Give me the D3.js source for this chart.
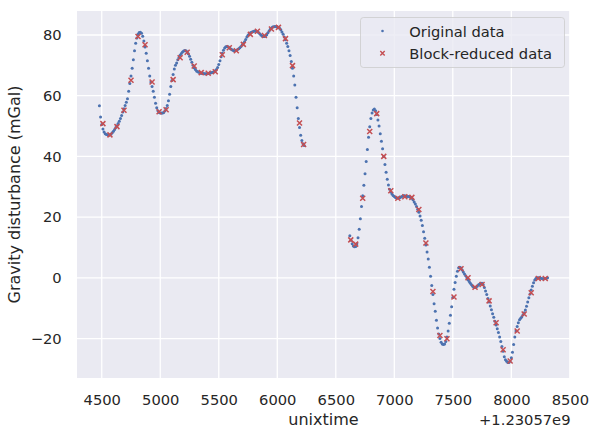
<!DOCTYPE html>
<html>
<head>
<meta charset="utf-8">
<script src="https://cdn.jsdelivr.net/npm/d3@7"></script>
<style>
  body { margin: 0; background: #ffffff; }
  text { font-family: "DejaVu Sans", sans-serif; fill: #262626; }
</style>
</head>
<body>
<script>
'use strict';

// offset printed under the x axis
const timeOffsetLabel = '+1.23057e9';

// tick values
const xTicks = [4500, 5000, 5500, 6000, 6500, 7000, 7500, 8000, 8500];
const yTicks = [-20, 0, 20, 40, 60, 80];

// original data, one reading every 10 s (seconds after the offset)
const sampleStep = 10;
const track1Start = 4480;
const track1Gravity = [
  56.7, 53.0, 50.5, 49.0, 48.0, 47.5, 47.2, 47.1, 47.0, 47.1,
  47.4, 47.8, 48.3, 48.9, 49.5, 50.1, 50.8, 51.6, 52.5, 53.5,
  54.6, 55.7, 56.8, 57.8, 59.0, 61.5, 64.0, 66.5, 69.0, 71.8,
  74.8, 77.3, 79.0, 80.2, 80.8, 80.9, 80.6, 79.6, 78.0, 76.0,
  74.0, 71.5, 69.0, 66.5, 64.5, 63.0, 61.5, 59.5, 57.5, 56.0,
  55.0, 54.5, 54.3, 54.3, 54.3, 54.5, 55.0, 55.8, 56.8, 58.3,
  60.5, 63.0, 65.0, 67.0, 68.8, 70.0, 70.8, 71.8, 72.6, 73.3,
  73.9, 74.4, 74.7, 74.9, 74.8, 74.4, 73.8, 73.0, 72.0, 71.0,
  70.0, 69.2, 68.6, 68.1, 67.9, 67.7, 67.5, 67.4, 67.3, 67.3,
  67.2, 67.2, 67.2, 67.3, 67.4, 67.5, 67.6, 67.7, 67.9, 68.2,
  68.6, 69.3, 70.3, 71.5, 72.8, 74.0, 75.0, 75.7, 76.1, 76.2,
  76.1, 75.8, 75.5, 75.2, 75.0, 74.8, 74.8, 74.9, 75.2, 75.5,
  75.8, 76.2, 76.7, 77.2, 77.8, 78.5, 79.3, 79.9, 80.4, 80.7,
  80.9, 81.1, 81.2, 81.3, 81.3, 81.1, 80.8, 80.4, 80.0, 79.7,
  79.5, 79.5, 79.7, 80.1, 80.7, 81.3, 81.9, 82.3, 82.6, 82.7,
  82.8, 82.8, 82.7, 82.5, 82.2, 81.7, 81.0, 80.2, 79.3, 78.4,
  77.3, 76.2, 74.8, 73.2, 71.3, 69.0, 66.5, 63.5, 59.5, 56.0,
  52.5, 49.5, 47.0, 45.2, 44.2, 43.6
];
const track2Start = 6620;
const track2Gravity = [
  13.9, 12.4, 11.2, 10.5, 10.2, 10.3, 11.2, 13.2, 16.0, 19.5,
  23.5, 27.0, 30.5, 34.3, 38.3, 42.3, 46.3, 49.8, 52.5, 54.3,
  55.3, 55.6, 55.0, 53.8, 52.0, 50.0, 47.5, 45.0, 42.5, 40.0,
  37.3, 34.8, 32.5, 30.6, 29.2, 28.3, 27.6, 27.1, 26.8, 26.5,
  26.3, 26.3, 26.4, 26.5, 26.7, 26.9, 27.0, 27.0, 26.9, 26.8,
  26.8, 26.7, 26.5, 26.2, 25.7, 25.0, 24.3, 23.5, 22.6, 21.6,
  20.4, 19.0, 17.2, 15.2, 13.0, 10.8, 8.5, 6.2, 3.5, 0.5,
  -2.5, -5.5, -8.5, -11.0, -14.0, -16.5, -18.5, -20.0, -21.2, -21.8,
  -22.0, -21.8, -21.0, -19.5, -17.5, -15.0, -12.3, -9.5, -6.5, -3.8,
  -1.5, 0.5, 2.2, 3.3, 3.5, 3.2, 2.6, 1.9, 1.3, 0.7,
  0.0, -0.6, -1.2, -1.8, -2.3, -2.8, -3.1, -3.2, -3.0, -2.7,
  -2.3, -2.0, -1.8, -1.8, -2.3, -3.2, -4.3, -5.5, -6.8, -8.0,
  -9.3, -10.5, -11.8, -13.0, -14.3, -15.5, -16.8, -18.0, -19.5, -21.0,
  -22.6, -24.2, -26.0, -27.0, -27.5, -27.9, -27.9, -27.4, -26.3, -24.5,
  -22.0, -19.5, -17.5, -16.0, -14.8, -13.8, -13.3, -12.8, -12.2, -11.5,
  -10.6, -9.4, -8.0, -6.6, -5.3, -4.0, -2.8, -1.6, -0.7, -0.2,
  0.0, 0.0, 0.0, -0.1, -0.2, -0.3, -0.3, -0.2, -0.1, 0.0
];

// block-reduced data (60 s blocks)
const blockTime = [
  4510, 4570, 4630, 4690, 4750, 4810, 4870, 4930, 4990, 5050,
  5110, 5170, 5230, 5290, 5350, 5410, 5470, 5530, 5590, 5650,
  5710, 5770, 5830, 5890, 5950, 6010, 6070, 6130, 6190, 6225,
  6628, 6670, 6730, 6790, 6850, 6910, 6970, 7030, 7090, 7150,
  7210, 7270, 7330, 7390, 7450, 7510, 7570, 7630, 7690, 7750,
  7810, 7870, 7930, 7990, 8050, 8110, 8170, 8230, 8290
];
const blockGravity = [
  50.8, 47.1, 49.8, 55.2, 65.1, 79.5, 76.8, 64.5, 54.7, 55.4,
  65.3, 72.5, 74.3, 69.8, 67.6, 67.4, 67.9, 73.5, 75.8, 74.8,
  76.9, 80.2, 81.2, 79.8, 82.0, 82.5, 78.8, 69.9, 51.0, 43.9,
  12.5, 11.1, 26.2, 48.2, 54.1, 40.0, 28.7, 26.2, 26.7, 26.5,
  22.5, 11.5, -4.5, -19.0, -20.1, -6.3, 3.0, 0.0, -3.1, -2.2,
  -7.6, -14.8, -23.7, -27.4, -17.5, -11.9, -4.9, -0.2, -0.2
];

(function() {

  const width = 599;
  const height = 438;
  const plot = { left: 77, right: 570, top: 11, bottom: 378 };
  const blue = '#4c72b0';
  const red = '#c44e52';
  const crossPath = 'M-2.5,-2.5L2.5,2.5M-2.5,2.5L2.5,-2.5';

  let svg = '';

  window.onload = function() {
    svg = d3.select('body')
      .append('svg')
      .attr('width', width)
      .attr('height', height);

    // original readings as {t, g} rows
    let original = track1Gravity.map((g, i) => ({ t: track1Start + i * sampleStep, g: g }))
      .concat(track2Gravity.map((g, i) => ({ t: track2Start + i * sampleStep, g: g })));
    let reduced = blockTime.map((t, i) => ({ t: t, g: blockGravity[i] }));

    let funcs = drawAxes();
    plotData(funcs, original, reduced);
    drawLabels();
    drawLegend();
  }

  // background, grid and tick labels
  function drawAxes() {
    let xScale = d3.scaleLinear()
      .domain([4288.5, 8501.5])
      .range([plot.left, plot.right]);

    let yScale = d3.scaleLinear()
      .domain([-33.0, 87.9])
      .range([plot.bottom, plot.top]);

    svg.append('rect')
      .attr('x', plot.left)
      .attr('y', plot.top)
      .attr('width', plot.right - plot.left)
      .attr('height', plot.bottom - plot.top)
      .attr('fill', '#eaeaf2');

    // white grid lines
    let grid = svg.append('g');
    grid.selectAll('.xgrid')
      .data(xTicks.filter((d) => xScale(d) <= plot.right))
      .enter()
      .append('line')
        .attr('x1', (d) => xScale(d))
        .attr('x2', (d) => xScale(d))
        .attr('y1', plot.top)
        .attr('y2', plot.bottom)
        .attr('stroke', '#ffffff')
        .attr('stroke-width', 1.3);
    grid.selectAll('.ygrid')
      .data(yTicks)
      .enter()
      .append('line')
        .attr('x1', plot.left)
        .attr('x2', plot.right)
        .attr('y1', (d) => yScale(d))
        .attr('y2', (d) => yScale(d))
        .attr('stroke', '#ffffff')
        .attr('stroke-width', 1.3);

    let xAxis = d3.axisBottom(xScale)
      .tickValues(xTicks)
      .tickFormat(d3.format('d'))
      .tickSize(0)
      .tickPadding(16.6);
    let gx = svg.append('g')
      .attr('transform', 'translate(0,' + plot.bottom + ')')
      .call(xAxis);

    let yAxis = d3.axisLeft(yScale)
      .tickValues(yTicks)
      .tickFormat(d3.format('d'))
      .tickSize(0)
      .tickPadding(15.3);
    let gy = svg.append('g')
      .attr('transform', 'translate(' + plot.left + ',0)')
      .call(yAxis);

    [gx, gy].forEach((g) => {
      g.select('.domain').remove();
      g.selectAll('text')
        .attr('fill', '#262626')
        .style('font-family', '"DejaVu Sans", sans-serif')
        .style('font-size', '14.7px');
    });

    return { x: xScale, y: yScale };
  }

  // blue dots for the raw track, red crosses for the block means
  function plotData(map, original, reduced) {
    svg.append('g')
      .selectAll('circle')
      .data(original)
      .enter()
      .append('circle')
        .attr('cx', (d) => map.x(d.t))
        .attr('cy', (d) => map.y(d.g))
        .attr('r', 1.5)
        .attr('fill', blue);

    svg.append('g')
      .selectAll('path')
      .data(reduced)
      .enter()
      .append('path')
        .attr('transform', (d) => 'translate(' + map.x(d.t) + ',' + map.y(d.g) + ')')
        .attr('d', crossPath)
        .attr('stroke', red)
        .attr('stroke-width', 1.5)
        .attr('fill', 'none');
  }

  // axis titles and the offset text
  function drawLabels() {
    svg.append('text')
      .attr('x', (plot.left + plot.right) / 2)
      .attr('y', 425)
      .attr('text-anchor', 'middle')
      .style('font-size', '16px')
      .text('unixtime');

    svg.append('text')
      .attr('x', plot.right + 0.5)
      .attr('y', 424.5)
      .attr('text-anchor', 'end')
      .style('font-size', '14.7px')
      .text(timeOffsetLabel);

    svg.append('text')
      .attr('transform', 'translate(20,' + (plot.top + plot.bottom) / 2 + ')rotate(-90)')
      .attr('text-anchor', 'middle')
      .style('font-size', '16px')
      .text('Gravity disturbance (mGal)');
  }

  function drawLegend() {
    let legend = svg.append('g');

    legend.append('rect')
      .attr('x', 360.5)
      .attr('y', 17.5)
      .attr('width', 204)
      .attr('height', 50)
      .attr('rx', 3)
      .attr('fill', '#eaeaf2')
      .attr('fill-opacity', 0.8)
      .attr('stroke', '#cccccc')
      .attr('stroke-opacity', 0.8);

    legend.append('circle')
      .attr('cx', 382.5)
      .attr('cy', 31)
      .attr('r', 1.3)
      .attr('fill', blue);

    legend.append('path')
      .attr('transform', 'translate(382.5,53.3)')
      .attr('d', 'M-2.2,-2.2L2.2,2.2M-2.2,2.2L2.2,-2.2')
      .attr('stroke', red)
      .attr('stroke-width', 1.4);

    legend.append('text')
      .attr('x', 409.3)
      .attr('y', 36.5)
      .style('font-size', '14.7px')
      .text('Original data');

    legend.append('text')
      .attr('x', 409.3)
      .attr('y', 58.5)
      .style('font-size', '14.7px')
      .text('Block-reduced data');
  }

})();
</script>
</body>
</html>
